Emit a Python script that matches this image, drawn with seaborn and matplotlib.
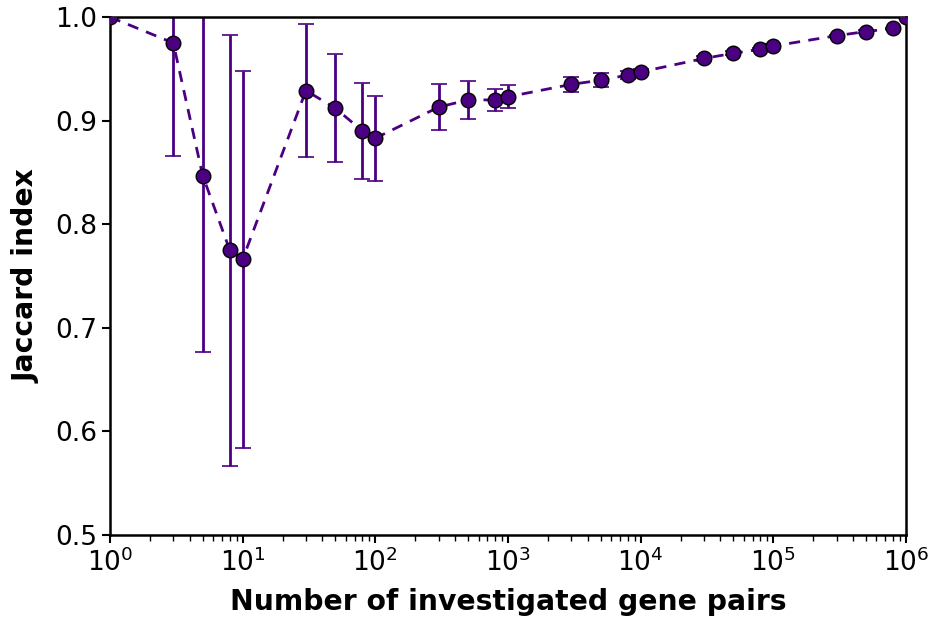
import numpy as np
import pandas as pd
import matplotlib
matplotlib.use("Agg")
import matplotlib.pyplot as plt
import seaborn as sns

# Number of gene pairs investigated and the resulting Jaccard index (mean ± sd)
n_pairs = [1, 3, 5, 8, 10, 30, 50, 80, 100, 300, 500, 800, 1000,
           3000, 5000, 8000, 10000, 30000, 50000, 80000, 100000,
           300000, 500000, 800000, 1000000]
jaccard = [1.000, 0.975, 0.847, 0.775, 0.766, 0.929, 0.912, 0.890, 0.883,
           0.913, 0.920, 0.920, 0.923, 0.935, 0.939, 0.944, 0.947,
           0.960, 0.965, 0.969, 0.972, 0.982, 0.986, 0.989, 1.000]
jaccard_sd = [0.000, 0.109, 0.170, 0.208, 0.182, 0.064, 0.052, 0.046, 0.041,
              0.022, 0.018, 0.011, 0.011, 0.0075, 0.0065, 0.004, 0.003,
              0.002, 0.002, 0.0015, 0.0015, 0.001, 0.001, 0.0005, 0.000]

df = pd.DataFrame({"pairs": n_pairs, "jaccard": jaccard, "sd": jaccard_sd})

sns.set_style("ticks")
plt.rcParams["font.family"] = ["DejaVu Sans"]
plt.rcParams["text.color"] = "black"
plt.rcParams["axes.labelcolor"] = "black"
plt.rcParams["xtick.color"] = "black"
plt.rcParams["ytick.color"] = "black"

color = "#4b0082"

fig = plt.figure(figsize=(9.35, 6.17), dpi=100)
ax = fig.add_axes([0.1176, 0.1329, 0.8513, 0.8395])

ax.errorbar(df["pairs"], df["jaccard"], yerr=df["sd"], fmt="none",
            ecolor=color, elinewidth=2, capsize=5.5, capthick=1.2, zorder=2)
sns.lineplot(data=df, x="pairs", y="jaccard", ax=ax, color=color,
             linewidth=2, dashes=False, marker="o", markersize=10.5,
             markerfacecolor=color, markeredgecolor="black",
             markeredgewidth=1, zorder=3)
ax.lines[-1].set_dashes((4, 3))

ax.set_xscale("log")
ax.set_xlim(1, 1e6)
ax.set_ylim(0.5, 1.0)
ax.set_yticks([0.5, 0.6, 0.7, 0.8, 0.9, 1.0])
ax.tick_params(axis="both", labelsize=19, width=1.5, length=6,
               direction="out", colors="black")
ax.tick_params(axis="x", which="minor", width=1, length=4)

for side in ["left", "right", "top", "bottom"]:
    ax.spines[side].set_visible(True)
    ax.spines[side].set_linewidth(1.8)
    ax.spines[side].set_color("black")

ax.set_xlabel("Number of investigated gene pairs", fontsize=20.3,
              fontweight="bold", labelpad=8)
ax.set_ylabel("Jaccard index", fontsize=20.3, fontweight="bold", labelpad=10)

fig.savefig("out.png", dpi=100)
